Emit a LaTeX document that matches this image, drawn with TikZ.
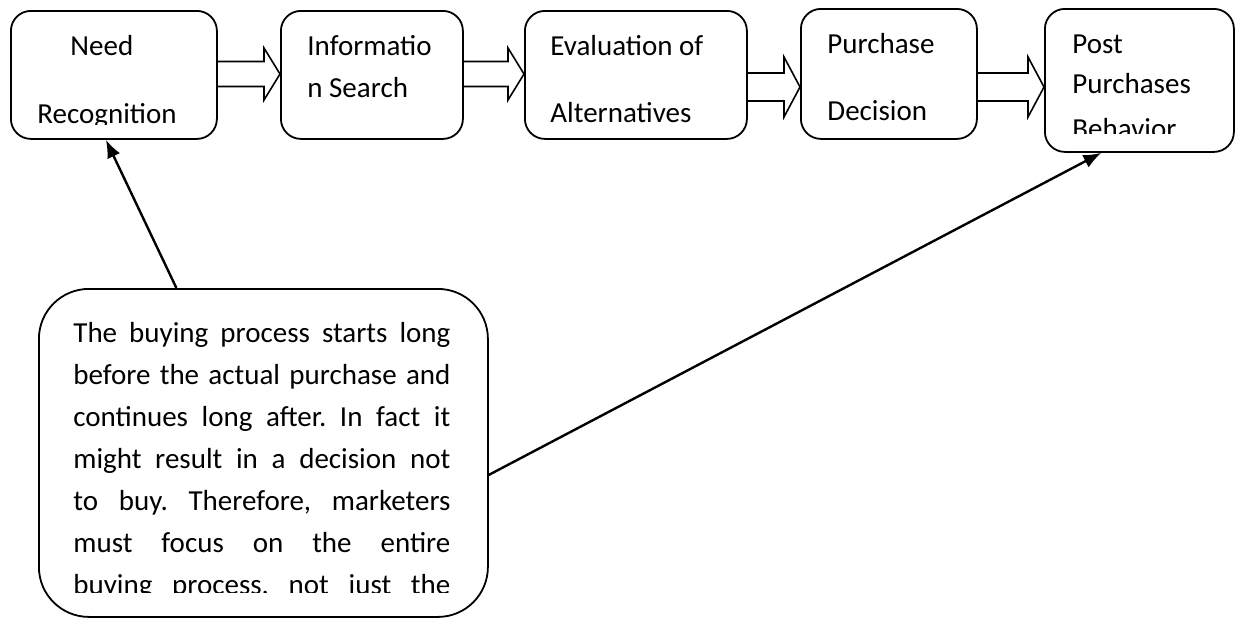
\documentclass[tikz,border=0pt]{standalone}
\usepackage{fontspec}
\setmainfont{Carlito}
\usetikzlibrary{arrows.meta,calc,positioning}

\tikzset{
  stage/.style={draw, rectangle, rounded corners=10pt, line width=0.9pt, anchor=north west, inner sep=0pt},
  stagetext/.style={anchor=base west, inner sep=0pt, font=\fontsize{14.5}{21}\selectfont},
  notebox/.style={draw, rectangle, rounded corners=25pt, line width=0.9pt, anchor=north west, inner sep=0pt},
  flow/.style={line width=0.8pt, line join=miter},
  pointer/.style={line width=1.2pt, -{Latex[length=9pt,width=7pt]}},
}

\begin{document}
\begin{tikzpicture}[x=0.5pt, y=-0.5pt]
    \useasboundingbox (0,0) rectangle (1235,618);

    % the five stages
    \node[stage, minimum width=103pt, minimum height=64pt] (need) at (10,10) {};
    \node[stage, minimum width=91pt, minimum height=64pt] (info) at (280,10) {};
    \node[stage, minimum width=111pt, minimum height=64pt] (eval) at (524,10) {};
    \node[stage, minimum width=88pt, minimum height=65pt] (dec) at (800,8) {};
    \node[stage, minimum width=94.5pt, minimum height=71.5pt] (post) at (1044,8) {};

    \begin{scope}
        \clip (12,12) rectangle (214,124);
        \node[stagetext] (need-a) at (70,55) {Need};
        \node[stagetext] (need-b) at (37,123) {Recognition};
    \end{scope}
    \node[stagetext] (info-a) at (307,55) {Informatio};
    \node[stagetext] (info-b) at (307,97) {n Search};
    \node[stagetext] (eval-a) at (550,55) {Evaluation of};
    \node[stagetext] (eval-b) at (550,122) {Alternatives};
    \node[stagetext] (dec-a) at (827,53) {Purchase};
    \node[stagetext] (dec-b) at (827,120) {Decision};
    \begin{scope}
        \clip (1046,10) rectangle (1232,133);
        \node[stagetext] (post-a) at (1072,53) {Post};
        \node[stagetext] (post-b) at (1072,93) {Purchases};
        \node[stagetext] (post-c) at (1072,138) {Behavior};
    \end{scope}

    % block arrows between stages
    \foreach \a/\b/\m/\s/\h in {need/info/74/12.5/26, info/eval/74/12.5/26, eval/dec/87/14/30, dec/post/87/14/30} {
        \coordinate (ba-s) at (\a.east |- 0,\m);
        \coordinate (ba-t) at (\b.west |- 0,\m);
        \draw[flow] ($(ba-s)+(0,-\s)$) -- ($(ba-t)+(-16,-\s)$) -- ($(ba-t)+(-16,-\h)$) -- (ba-t)
            -- ($(ba-t)+(-16,\h)$) -- ($(ba-t)+(-16,\s)$) -- ($(ba-s)+(0,\s)$);
    }

    % note
    \node[notebox, minimum width=224.5pt, minimum height=164pt] (note) at (38,288) {};
    \begin{scope}
        \clip (40,290) rectangle (485,592);
        \node[anchor=north west, inner sep=0pt, text width=188.5pt, align=justify,
              font=\fontsize{14.5}{21}\selectfont] (note-text) at (73,322)
            {\frenchspacing\hyphenpenalty=10000 \exhyphenpenalty=10000
             The buying process starts long\linebreak
             before the actual purchase and\linebreak
             continues long after. In fact it\linebreak
             might result in a decision not\linebreak
             to buy. Therefore, marketers\linebreak
             must focus on the entire\linebreak
             buying process, not just the\parfillskip=0pt\par};
    \end{scope}

    \draw[pointer] ([xshift=-43.5pt]note.north) -- ([xshift=-4pt]need.south);
    \draw[pointer] ([yshift=-11pt]note.east) -- ([xshift=-19pt]post.south);
\end{tikzpicture}
\end{document}
